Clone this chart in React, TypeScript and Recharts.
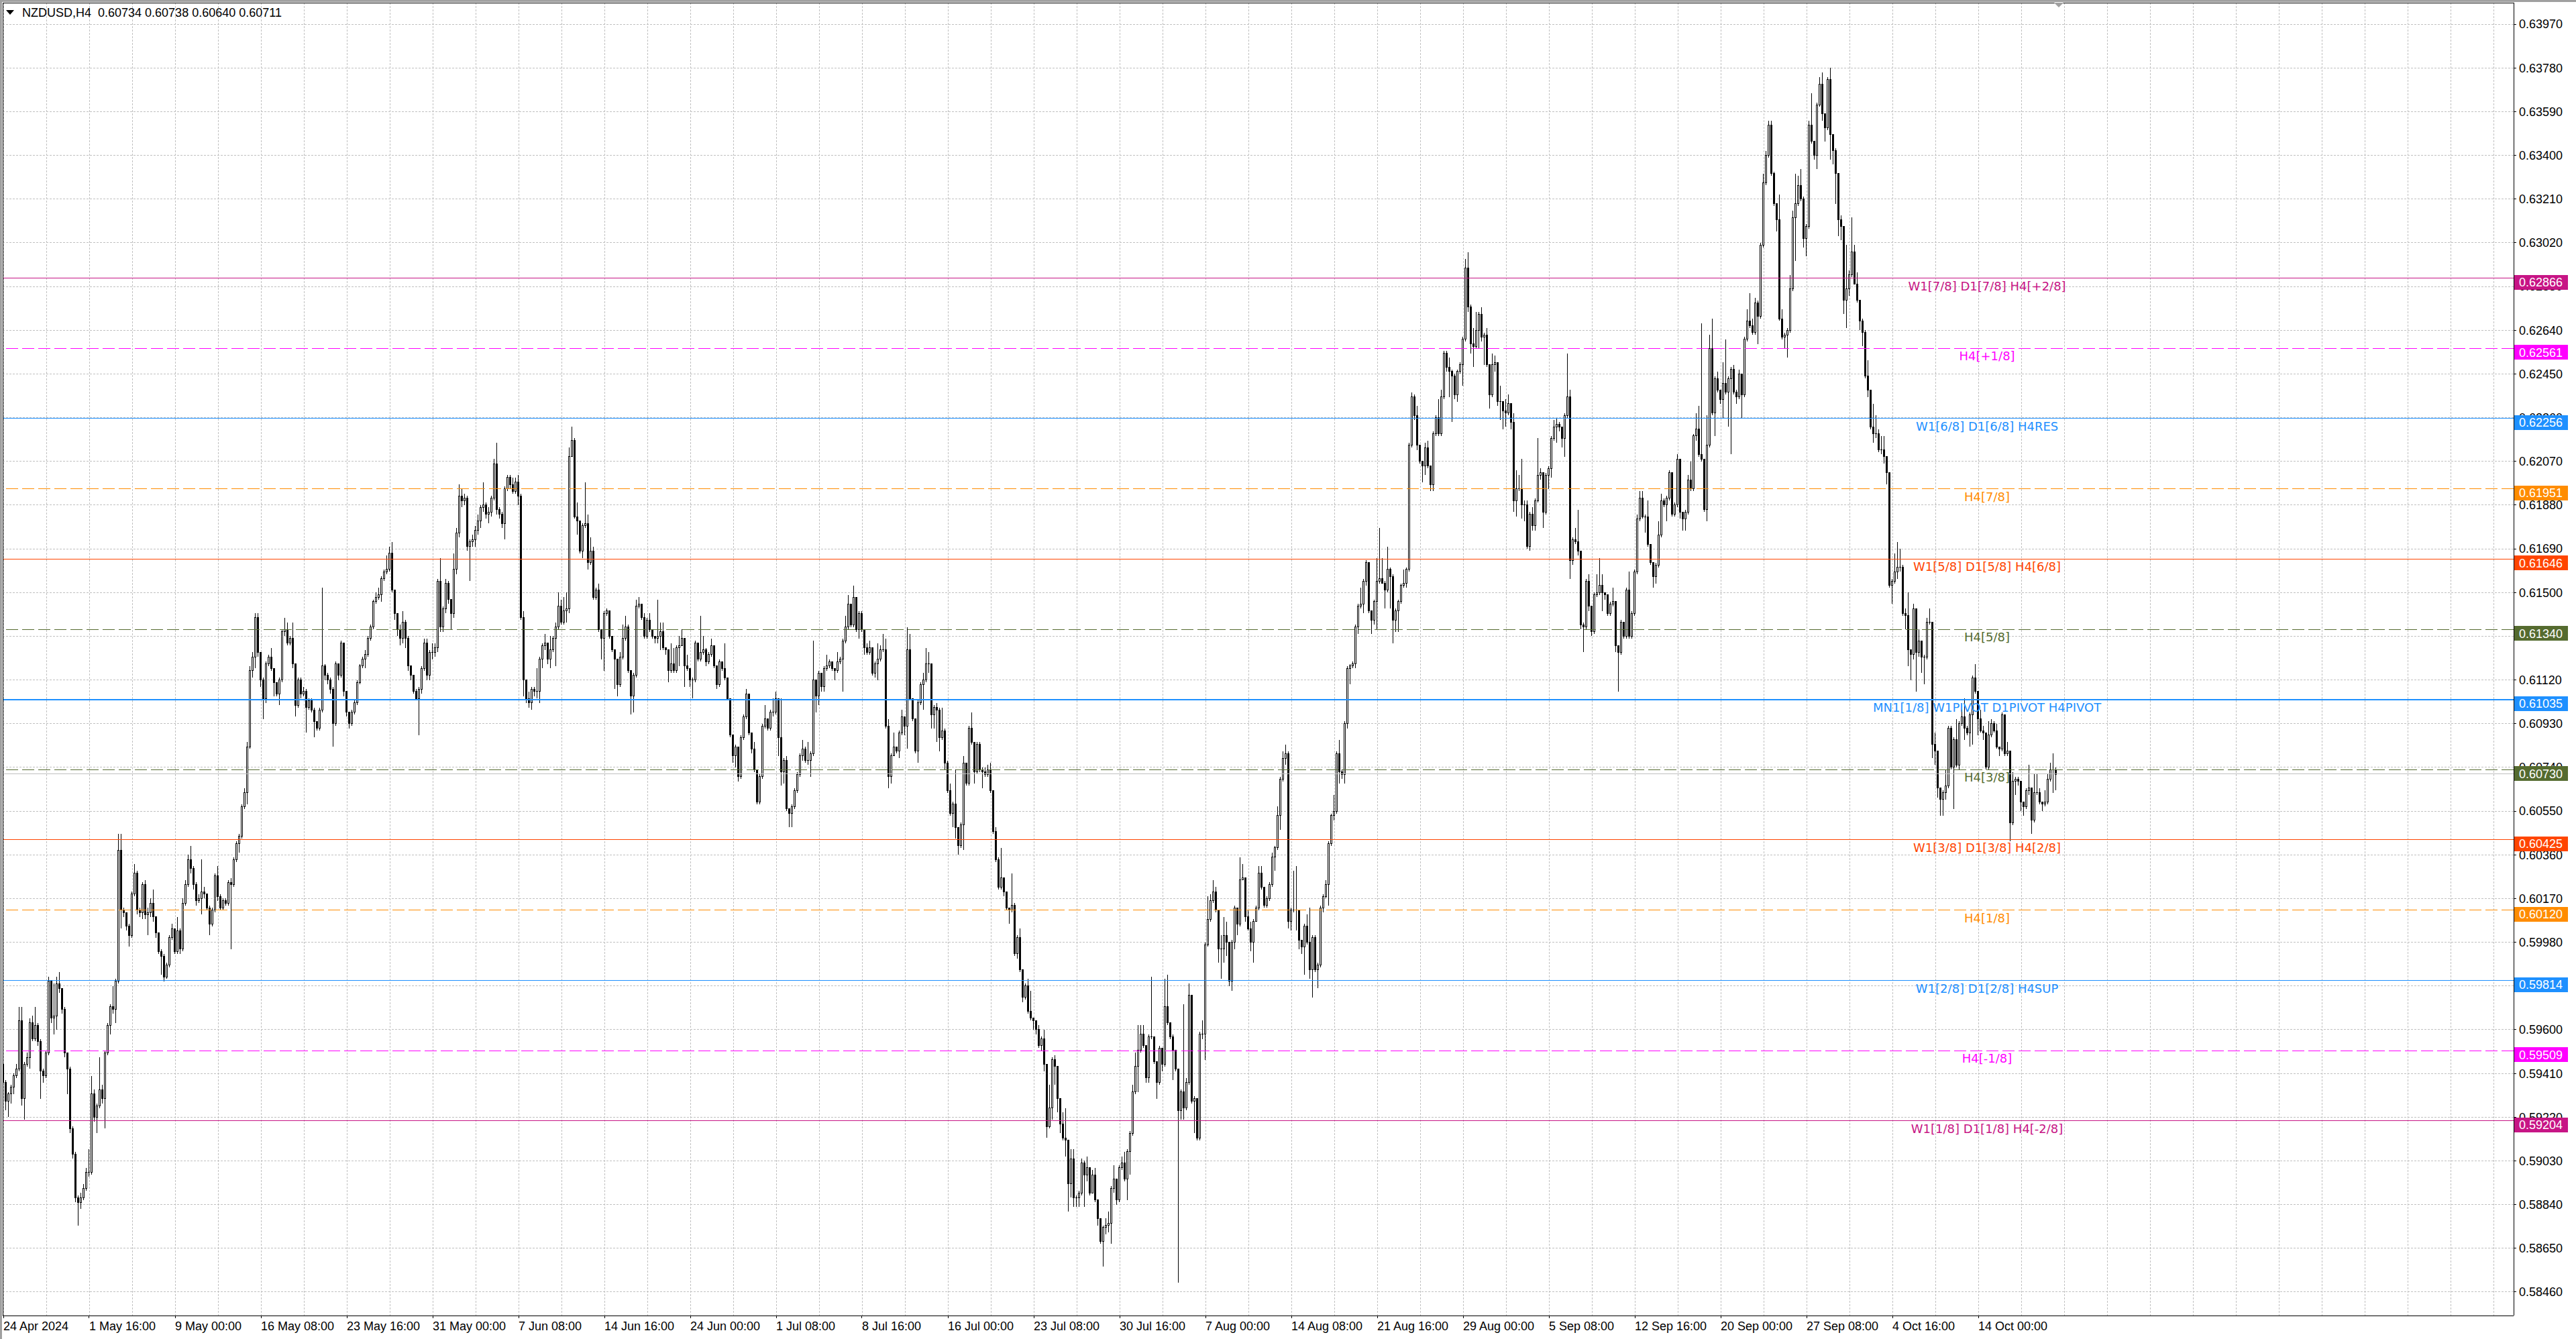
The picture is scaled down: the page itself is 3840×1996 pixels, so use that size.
import React from 'react';
import { ComposedChart, Bar, XAxis, YAxis, CartesianGrid, ReferenceLine } from 'recharts';

// ---- data ----
const symbolTitle = 'NZDUSD,H4';
const lastQuote = [0.60734, 0.60738, 0.6064, 0.60711];

const timeLabels = [
  '24 Apr 2024', '1 May 16:00', '9 May 00:00', '16 May 08:00', '23 May 16:00', '31 May 00:00',
  '7 Jun 08:00', '14 Jun 16:00', '24 Jun 00:00', '1 Jul 08:00', '8 Jul 16:00', '16 Jul 00:00',
  '23 Jul 08:00', '30 Jul 16:00', '7 Aug 00:00', '14 Aug 08:00', '21 Aug 16:00', '29 Aug 00:00',
  '5 Sep 08:00', '12 Sep 16:00', '20 Sep 00:00', '27 Sep 08:00', '4 Oct 16:00', '14 Oct 00:00',
];

const priceTicks = [
  0.6397, 0.6378, 0.6359, 0.634, 0.6321, 0.6302, 0.6283, 0.6264, 0.6245, 0.6226,
  0.6207, 0.6188, 0.6169, 0.615, 0.6131, 0.6112, 0.6093, 0.6074, 0.6055, 0.6036,
  0.6017, 0.5998, 0.5979, 0.596, 0.5941, 0.5922, 0.5903, 0.5884, 0.5865, 0.5846,
];

const levelPrices = [0.62866, 0.62561, 0.62256, 0.61951, 0.61646, 0.6134, 0.61035, 0.6073, 0.60425, 0.6012, 0.59814, 0.59509, 0.59204];
const levelNames = [
  'W1[7/8] D1[7/8] H4[+2/8]', 'H4[+1/8]', 'W1[6/8] D1[6/8] H4RES', 'H4[7/8]',
  'W1[5/8] D1[5/8] H4[6/8]', 'H4[5/8]', 'MN1[1/8] W1PIVOT D1PIVOT H4PIVOT', 'H4[3/8]',
  'W1[3/8] D1[3/8] H4[2/8]', 'H4[1/8]', 'W1[2/8] D1[2/8] H4SUP', 'H4[-1/8]', 'W1[1/8] D1[1/8] H4[-2/8]',
];
const bidPrice = 0.60711;

// H4 bars in pips (x 1e-4), open = previous close
const firstOpen = 5945;
const closes = [
  5937,5929,5932,5935,5940,5943,5964,5930,5945,5948,
  5963,5956,5962,5955,5942,5940,5950,5981,5965,5966,
  5980,5978,5969,5950,5943,5917,5906,5887,5885,5887,
  5891,5898,5898,5932,5922,5927,5934,5930,5950,5962,
  5970,5969,5981,6038,6012,6011,6005,6001,6019,6028,
  6012,6011,6023,6010,6011,6015,6009,6002,5994,5992,
  5983,5988,6000,6004,5994,6003,5995,6015,6023,6034,
  6030,6023,6016,6017,6020,6019,6013,6006,6012,6027,
  6018,6013,6016,6015,6024,6023,6034,6041,6044,6057,
  6063,6083,6116,6122,6139,6124,6112,6104,6119,6122,
  6117,6111,6106,6112,6133,6134,6128,6130,6119,6101,
  6112,6106,6107,6100,6103,6099,6094,6091,6099,6118,
  6114,6112,6108,6093,6119,6114,6128,6107,6098,6093,
  6098,6102,6111,6118,6121,6123,6130,6135,6146,6148,
  6149,6156,6159,6160,6167,6151,6141,6134,6130,6137,
  6130,6118,6114,6107,6104,6108,6117,6128,6114,6124,
  6124,6126,6155,6135,6143,6154,6147,6141,6160,6176,
  6192,6190,6191,6170,6172,6173,6177,6181,6187,6188,
  6184,6185,6191,6206,6186,6184,6180,6195,6200,6197,
  6194,6198,6192,6139,6112,6104,6102,6108,6107,6107,
  6121,6127,6128,6121,6125,6130,6135,6144,6137,6142,
  6143,6209,6216,6183,6181,6168,6179,6180,6163,6168,
  6148,6151,6134,6130,6141,6142,6131,6125,6121,6110,
  6122,6130,6135,6116,6105,6114,6144,6145,6139,6131,
  6138,6134,6131,6130,6131,6133,6126,6125,6116,6119,
  6116,6126,6127,6130,6118,6117,6112,6112,6128,6121,
  6124,6125,6120,6123,6127,6118,6110,6120,6117,6113,
  6104,6088,6079,6083,6070,6087,6096,6106,6089,6082,
  6073,6059,6070,6092,6095,6091,6098,6098,6104,6087,
  6072,6077,6056,6054,6057,6064,6071,6079,6082,6077,
  6077,6080,6112,6105,6115,6109,6117,6118,6120,6117,
  6116,6120,6121,6129,6135,6145,6136,6148,6134,6141,
  6134,6126,6124,6126,6115,6119,6121,6125,6125,6092,
  6070,6079,6083,6081,6089,6096,6092,6125,6104,6095,
  6081,6102,6110,6112,6119,6119,6097,6100,6099,6087,
  6090,6076,6064,6054,6058,6048,6040,6049,6076,6067,
  6091,6085,6072,6084,6073,6072,6071,6073,6064,6046,
  6034,6022,6026,6020,6013,6012,6014,5993,6000,5986,
  5974,5979,5968,5965,5964,5960,5953,5956,5945,5918,
  5926,5947,5944,5930,5919,5913,5912,5893,5904,5887,
  5887,5889,5902,5897,5900,5889,5897,5886,5878,5868,
  5874,5875,5876,5891,5895,5886,5900,5902,5895,5907,
  5915,5933,5944,5951,5958,5953,5939,5957,5957,5946,
  5937,5952,5945,5970,5963,5957,5951,5943,5925,5933,
  5926,5937,5975,5929,5930,5913,5958,5958,5997,6008,
  6016,6020,6012,5995,5995,6001,5998,5981,5998,6013,
  6006,6025,6026,6009,6004,5998,6007,6013,6028,6022,
  6014,6017,6023,6035,6039,6053,6069,6078,6080,6007,
  6012,6012,6012,5999,5996,6005,5998,5986,6000,5986,
  5988,6013,6018,6023,6041,6053,6055,6080,6072,6071,
  6093,6117,6118,6119,6135,6144,6145,6155,6163,6142,
  6138,6146,6155,6156,6154,6151,6160,6157,6138,6142,
  6146,6153,6154,6160,6214,6235,6227,6214,6207,6205,
  6213,6205,6197,6219,6226,6219,6235,6254,6248,6246,
  6244,6236,6246,6249,6260,6291,6274,6258,6257,6264,
  6271,6261,6262,6249,6236,6249,6250,6233,6233,6229,
  6228,6232,6224,6190,6195,6195,6188,6188,6170,6184,
  6179,6190,6201,6202,6185,6201,6204,6217,6222,6223,
  6222,6217,6227,6235,6164,6173,6172,6168,6136,6135,
  6155,6144,6133,6149,6150,6153,6150,6149,6141,6145,
  6146,6127,6124,6137,6131,6151,6131,6141,6159,6182,
  6191,6183,6183,6171,6163,6157,6162,6175,6190,6188,
  6191,6202,6184,6188,6208,6185,6182,6185,6199,6195,
  6218,6221,6210,6208,6186,6214,6256,6228,6243,6238,
  6234,6241,6237,6243,6247,6237,6235,6245,6236,6260,
  6268,6266,6263,6276,6270,6301,6328,6340,6353,6332,
  6319,6312,6269,6261,6262,6264,6282,6313,6319,6327,
  6321,6304,6309,6353,6346,6340,6362,6371,6358,6352,
  6373,6349,6342,6332,6312,6309,6277,6282,6288,6298,
  6284,6277,6268,6263,6244,6238,6222,6219,6219,6212,
  6212,6209,6202,6153,6155,6159,6161,6161,6141,6140,
  6125,6123,6143,6124,6129,6122,6122,6137,6137,6084,
  6081,6065,6060,6063,6066,6091,6074,6086,6075,6093,
  6096,6091,6089,6097,6113,6107,6095,6090,6089,6074,
  6088,6093,6090,6083,6082,6097,6080,6081,6050,6068,
  6069,6068,6059,6057,6064,6065,6051,6063,6063,6059,
  6058,6059,6069,6073,6073,6071,
];
const highs = [
  5949,5938,5933,5936,5941,5945,5970,5970,5946,5950,
  5965,5966,5970,5963,5956,5943,5951,5983,5981,5980,
  5983,5985,5978,5970,5950,5944,5918,5907,5888,5889,
  5893,5900,5908,5940,5934,5928,5948,5936,5951,5963,
  5971,5979,5982,6045,6045,6013,6011,6006,6020,6032,
  6029,6013,6024,6025,6013,6017,6021,6009,6002,5995,
  5993,5989,6001,6006,6004,6009,6004,6017,6025,6036,
  6040,6031,6024,6019,6034,6022,6019,6014,6013,6028,
  6031,6019,6017,6017,6025,6026,6035,6042,6045,6058,
  6065,6085,6118,6124,6141,6141,6124,6113,6120,6123,
  6126,6117,6111,6113,6134,6139,6137,6131,6137,6119,
  6113,6113,6109,6108,6104,6104,6100,6094,6100,6152,
  6119,6115,6113,6109,6120,6119,6129,6128,6107,6098,
  6099,6103,6112,6119,6122,6125,6131,6136,6147,6150,
  6152,6157,6160,6166,6170,6172,6151,6141,6136,6142,
  6138,6131,6118,6114,6108,6109,6118,6130,6130,6125,
  6128,6128,6156,6165,6144,6156,6155,6147,6167,6178,
  6197,6195,6193,6192,6173,6175,6179,6184,6188,6198,
  6189,6187,6192,6208,6215,6187,6185,6196,6201,6201,
  6200,6200,6201,6193,6142,6112,6107,6109,6109,6117,
  6122,6128,6132,6128,6131,6131,6137,6150,6147,6148,
  6150,6213,6222,6217,6189,6181,6180,6198,6184,6174,
  6170,6152,6154,6134,6142,6143,6142,6131,6125,6121,
  6124,6136,6140,6136,6116,6115,6147,6148,6145,6141,
  6139,6141,6134,6131,6147,6137,6137,6126,6125,6128,
  6126,6127,6131,6134,6130,6123,6117,6113,6129,6128,
  6140,6131,6126,6124,6130,6127,6118,6121,6120,6128,
  6113,6104,6088,6084,6080,6088,6097,6108,6106,6089,
  6085,6073,6071,6093,6101,6095,6099,6104,6107,6104,
  6104,6078,6079,6056,6058,6065,6072,6080,6086,6083,
  6085,6081,6129,6112,6116,6115,6118,6123,6121,6120,
  6117,6124,6122,6130,6140,6149,6145,6153,6148,6142,
  6142,6134,6128,6129,6126,6120,6128,6127,6132,6130,
  6095,6080,6089,6083,6090,6099,6096,6135,6132,6104,
  6095,6103,6111,6115,6126,6124,6113,6101,6102,6100,
  6100,6091,6077,6067,6059,6073,6048,6050,6079,6076,
  6092,6098,6085,6085,6085,6074,6074,6075,6076,6064,
  6048,6035,6039,6026,6020,6013,6028,6015,6001,6004,
  5986,5980,5982,5977,5965,5964,5962,5957,5960,5945,
  5936,5948,5949,5944,5930,5924,5926,5912,5908,5908,
  5888,5890,5904,5903,5905,5900,5899,5900,5886,5878,
  5875,5878,5881,5892,5901,5895,5901,5905,5907,5908,
  5916,5936,5950,5962,5962,5962,5953,5958,5983,5957,
  5946,5953,5952,5982,5984,5963,5958,5951,5943,5934,
  5971,5939,5980,5975,5931,5930,5959,5964,5998,6018,
  6019,6025,6022,6012,6001,6009,6007,5998,5999,6014,
  6013,6035,6032,6026,6012,6007,6008,6014,6031,6031,
  6022,6018,6024,6037,6040,6057,6070,6081,6084,6081,
  6013,6029,6031,6012,5999,6006,6010,6013,6001,6001,
  5989,6014,6019,6025,6042,6054,6062,6081,6086,6073,
  6094,6118,6119,6120,6136,6145,6152,6156,6164,6163,
  6142,6147,6165,6178,6165,6155,6170,6161,6158,6143,
  6147,6154,6160,6161,6215,6237,6236,6231,6214,6207,
  6215,6216,6204,6220,6227,6234,6238,6255,6255,6252,
  6247,6245,6247,6250,6261,6295,6298,6275,6265,6272,
  6272,6274,6263,6265,6249,6254,6253,6250,6240,6233,
  6234,6236,6232,6228,6203,6201,6208,6190,6190,6185,
  6187,6191,6217,6204,6202,6202,6205,6218,6225,6226,
  6224,6222,6228,6254,6238,6174,6178,6186,6168,6137,
  6156,6158,6144,6150,6158,6165,6158,6150,6149,6146,
  6152,6146,6127,6138,6137,6152,6159,6142,6160,6184,
  6194,6194,6184,6190,6171,6163,6163,6181,6193,6191,
  6192,6203,6202,6189,6210,6208,6185,6186,6201,6207,
  6219,6228,6231,6267,6208,6227,6262,6269,6244,6246,
  6238,6250,6260,6244,6248,6249,6238,6247,6245,6261,
  6273,6280,6269,6278,6277,6302,6332,6342,6355,6355,
  6333,6319,6323,6273,6263,6265,6288,6316,6332,6331,
  6334,6322,6310,6355,6367,6346,6363,6374,6376,6358,
  6374,6378,6349,6343,6332,6314,6309,6301,6290,6313,
  6301,6289,6277,6269,6264,6251,6238,6232,6227,6221,
  6218,6218,6209,6202,6156,6167,6172,6169,6162,6143,
  6150,6125,6145,6143,6134,6128,6123,6139,6143,6137,
  6089,6081,6065,6064,6073,6092,6092,6087,6095,6094,
  6099,6104,6092,6098,6114,6119,6107,6099,6092,6089,
  6094,6095,6094,6093,6083,6098,6097,6085,6081,6072,
  6070,6070,6068,6059,6065,6075,6065,6071,6071,6065,
  6059,6064,6071,6076,6080,6074,
];
const lows = [
  5932,5925,5922,5928,5932,5939,5942,5927,5921,5944,
  5943,5955,5955,5953,5930,5937,5939,5949,5963,5958,
  5960,5976,5967,5948,5932,5915,5904,5885,5875,5882,
  5886,5890,5896,5897,5920,5915,5926,5928,5917,5949,
  5958,5967,5963,5980,6004,6009,6003,5996,6000,6018,
  6010,6009,6008,6008,6001,6009,6007,6000,5993,5984,
  5981,5982,5987,5999,5993,5993,5993,5994,6014,6022,
  6028,6021,6014,6015,6010,6017,6012,6001,6005,6011,
  6016,6012,6012,6014,6014,5995,6022,6033,6037,6043,
  6056,6058,6082,6113,6117,6122,6109,6095,6102,6118,
  6116,6105,6105,6101,6111,6131,6127,6127,6117,6096,
  6100,6104,6105,6089,6099,6098,6087,6090,6090,6098,
  6112,6110,6106,6083,6092,6112,6113,6105,6096,6091,
  6092,6097,6101,6110,6117,6117,6122,6129,6134,6145,
  6147,6146,6155,6158,6159,6150,6138,6131,6127,6128,
  6126,6116,6112,6106,6103,6088,6106,6116,6112,6112,
  6121,6122,6124,6133,6133,6141,6145,6134,6139,6158,
  6174,6187,6188,6168,6155,6170,6170,6175,6178,6185,
  6182,6180,6183,6190,6184,6182,6178,6173,6194,6195,
  6193,6193,6188,6138,6105,6102,6100,6099,6105,6104,
  6102,6117,6125,6119,6117,6124,6118,6134,6136,6136,
  6137,6141,6209,6182,6175,6167,6165,6178,6160,6162,
  6147,6147,6133,6121,6116,6140,6130,6124,6108,6105,
  6109,6121,6129,6115,6097,6098,6113,6143,6138,6130,
  6130,6133,6130,6128,6128,6125,6125,6123,6111,6115,
  6115,6115,6118,6127,6109,6116,6109,6104,6111,6120,
  6120,6123,6118,6119,6122,6117,6108,6109,6116,6112,
  6103,6087,6076,6074,6068,6069,6086,6095,6088,6080,
  6072,6058,6058,6069,6091,6090,6090,6096,6097,6079,
  6066,6067,6055,6048,6048,6056,6063,6070,6077,6076,
  6075,6070,6079,6098,6101,6107,6107,6116,6117,6116,
  6112,6115,6119,6107,6128,6134,6135,6135,6133,6130,
  6133,6123,6123,6123,6114,6113,6112,6120,6124,6091,
  6065,6067,6079,6080,6078,6088,6088,6082,6103,6094,
  6080,6076,6101,6099,6111,6115,6091,6091,6085,6081,
  6086,6073,6063,6053,6048,6043,6036,6039,6038,6066,
  6066,6084,6067,6071,6072,6065,6070,6070,6063,6045,
  6033,6021,6021,6018,6012,6006,6011,5992,5991,5985,
  5972,5973,5967,5964,5960,5958,5952,5951,5942,5913,
  5917,5921,5936,5924,5915,5912,5905,5881,5887,5883,
  5883,5883,5888,5883,5894,5888,5889,5885,5875,5867,
  5857,5871,5872,5867,5889,5884,5885,5899,5894,5886,
  5897,5914,5932,5933,5950,5952,5937,5937,5956,5945,
  5930,5936,5942,5944,5962,5956,5938,5942,5850,5921,
  5921,5925,5936,5928,5915,5912,5912,5956,5947,5996,
  6007,6015,6011,5989,5982,5989,5992,5979,5977,5995,
  6001,6005,6025,6007,6003,5994,5989,6007,6012,6021,
  6013,6013,6016,6022,6029,6038,6047,6068,6075,6004,
  6003,6011,6003,5995,5993,5984,5997,5982,5974,5985,
  5978,5987,6011,6017,6014,6040,6051,6054,6067,6069,
  6067,6091,6110,6117,6117,6132,6143,6141,6153,6141,
  6132,6136,6134,6154,6154,6143,6150,6143,6128,6133,
  6133,6145,6152,6152,6159,6213,6225,6212,6206,6198,
  6201,6204,6194,6194,6218,6218,6218,6234,6246,6235,
  6224,6234,6233,6245,6240,6259,6272,6254,6248,6256,
  6256,6259,6249,6248,6230,6235,6246,6231,6225,6221,
  6222,6227,6221,6185,6183,6194,6182,6181,6169,6168,
  6177,6177,6189,6199,6178,6184,6195,6200,6216,6215,
  6220,6213,6209,6226,6156,6162,6171,6166,6134,6124,
  6134,6142,6131,6132,6148,6149,6142,6147,6140,6140,
  6144,6124,6107,6123,6130,6130,6130,6130,6140,6158,
  6181,6182,6176,6170,6162,6152,6154,6161,6174,6187,
  6181,6190,6183,6183,6187,6182,6177,6177,6184,6194,
  6194,6216,6209,6207,6185,6181,6213,6227,6218,6237,
  6232,6226,6236,6222,6210,6236,6232,6234,6226,6235,
  6259,6265,6262,6262,6258,6269,6300,6327,6339,6331,
  6318,6307,6268,6260,6256,6252,6263,6281,6294,6318,
  6320,6300,6296,6308,6345,6338,6334,6361,6355,6346,
  6351,6338,6336,6319,6305,6303,6271,6265,6279,6287,
  6284,6276,6264,6257,6243,6235,6221,6215,6217,6211,
  6210,6206,6197,6152,6145,6154,6156,6159,6140,6134,
  6118,6112,6121,6107,6122,6115,6110,6121,6136,6078,
  6075,6061,6053,6053,6060,6065,6073,6056,6074,6073,
  6092,6086,6088,6083,6084,6106,6088,6089,6086,6073,
  6073,6087,6089,6082,6079,6081,6079,6079,6042,6049,
  6062,6066,6055,6053,6056,6062,6045,6050,6062,6058,
  6055,6057,6058,6068,6063,6064,
];

// ---- styles ----
const levelColors = ['#c71585', '#ff00ff', '#1e90ff', '#ff8c00', '#ff4500', '#556b2f', '#1e90ff', '#556b2f', '#ff4500', '#ff8c00', '#1e90ff', '#ff00ff', '#c71585'];
const levelDashed = [false, true, false, true, false, true, false, true, false, true, false, true, false];
const levelWidths = [1, 1, 1, 1, 1, 1, 2, 1, 1, 1, 1, 1, 1];

const W = 3840;
const H = 1996;
const PRICE_AXIS_W = 92;
const TAG_AXIS_W = 1;
const AXIS_FONT = '"Liberation Sans", Arial, sans-serif';
const LABEL_FONT = '"DejaVu Sans", Verdana, sans-serif';
const LABEL_POS = 0.7903; // level captions sit in the right part of the plot
const BARS_PER_LABEL = 32;
const BARS_PER_GRID = 16;

const n = Math.min(closes.length, highs.length, lows.length);
const candles = Array.from({ length: n }, (_, i) => {
  const o = i === 0 ? firstOpen : closes[i - 1];
  const c = closes[i];
  const hi = Math.max(highs[i], o, c);
  const lo = Math.min(lows[i], o, c);
  return { i, open: o / 1e4, close: c / 1e4, high: hi / 1e4, low: lo / 1e4, range: [lo / 1e4, hi / 1e4] };
});

const xDomain = [-0.25, 935.5];
const yDomain = [0.583579, 0.640633];
const gridBars = Array.from({ length: Math.floor(xDomain[1] / BARS_PER_GRID) + 1 }, (_, k) => k * BARS_PER_GRID);

const Candle = (props: any) => {
  const { x, y, width, height, payload } = props;
  if (!payload) return null;
  const { open, close, high, low } = payload;
  const top = Math.min(y, y + height);
  const bottom = Math.max(y, y + height);
  const span = high - low || 1e-9;
  const py = (p: number) => top + ((high - p) / span) * (bottom - top);
  const cx = Math.floor(x + width / 2) + 0.5;
  const bTop = py(Math.max(open, close));
  const bBot = py(Math.min(open, close));
  const bull = close > open;
  return (
    <g>
      <line x1={cx} x2={cx} y1={top} y2={bottom} stroke="#000" strokeWidth={1} />
      {bBot - bTop < 1 ? (
        <line x1={cx - 1.5} x2={cx + 1.5} y1={bTop} y2={bTop} stroke="#000" strokeWidth={1} />
      ) : (
        <rect x={cx - 1} y={bTop} width={2} height={bBot - bTop} fill={bull ? '#fff' : '#000'} stroke="#000" strokeWidth={1} />
      )}
    </g>
  );
};

const TimeTick = (props: any) => {
  const { x, y, payload } = props;
  const k = payload.value / BARS_PER_LABEL;
  if (!Number.isInteger(k) || k >= timeLabels.length) return null;
  const px = Math.floor(x) + 0.5;
  return (
    <g>
      <line x1={px} x2={px} y1={y} y2={y + 4} stroke="#000" strokeWidth={1} />
      <text x={x} y={y + 22} fontSize={18} fontFamily={AXIS_FONT} fill="#000" textAnchor="start">
        {timeLabels[k]}
      </text>
    </g>
  );
};

// price tag for every level; its axis sits just right of the price axis,
// so the tag is drawn back over the price axis (after it, i.e. on top of the tick labels)
const TagTick = (props: any) => {
  const { x, y, payload } = props;
  const idx = levelPrices.indexOf(payload.value);
  if (idx < 0) return null;
  const left = x - PRICE_AXIS_W;
  return (
    <g>
      <rect x={left + 1} y={y - 5} width={80} height={22} fill={levelColors[idx]} />
      <text x={left + 8} y={y + 12.5} fontSize={18} fontFamily={AXIS_FONT} fill="#fff">
        {levelPrices[idx].toFixed(5)}
      </text>
    </g>
  );
};

const levelLabel = (idx: number) => (props: any) => {
  const vb = props.viewBox || {};
  const x = vb.x ?? 4;
  const y = vb.y ?? 0;
  const w = vb.width ?? 3743;
  return (
    <text x={x + w * LABEL_POS} y={y + 18} textAnchor="middle" fontSize={18} fontFamily={LABEL_FONT} fill={levelColors[idx]}>
      {levelNames[idx]}
    </text>
  );
};

export default function App() {
  return (
    <div className="mt4" style={{ position: 'relative', width: W, height: H, background: '#fff', overflow: 'hidden' }}>
      <style>{'body{margin:0} .mt4 svg line, .mt4 svg rect, .mt4 svg path{shape-rendering:crispEdges}'}</style>
      <ComposedChart width={W} height={H} data={candles} margin={{ top: 4, right: 0, bottom: 0, left: 4 }}>
        <CartesianGrid stroke="#c0c0c0" strokeDasharray="3 2" />
        <XAxis
          dataKey="i"
          type="number"
          domain={xDomain}
          allowDataOverflow
          ticks={gridBars}
          interval={0}
          height={35}
          tickSize={0}
          tickMargin={0}
          tickLine={false}
          axisLine={{ stroke: '#000' }}
          tick={TimeTick}
        />
        <YAxis
          orientation="right"
          type="number"
          domain={yDomain}
          allowDataOverflow
          ticks={priceTicks}
          interval={0}
          width={PRICE_AXIS_W}
          tickSize={4}
          tickMargin={4}
          axisLine={{ stroke: '#000' }}
          tickLine={{ stroke: '#000' }}
          tick={{ fontSize: 18, fontFamily: AXIS_FONT, fill: '#000' }}
          tickFormatter={(v: number) => v.toFixed(5)}
        />
        <YAxis
          yAxisId="tags"
          orientation="right"
          type="number"
          domain={yDomain}
          allowDataOverflow
          ticks={levelPrices}
          interval={0}
          width={TAG_AXIS_W}
          tickSize={0}
          tickMargin={0}
          axisLine={false}
          tickLine={false}
          tick={TagTick}
        />
        <ReferenceLine y={bidPrice} stroke="#c0c0c0" strokeWidth={1} />
        {levelPrices.map((p, idx) => (
          <ReferenceLine
            key={p}
            y={p}
            stroke={levelColors[idx]}
            strokeWidth={levelWidths[idx]}
            strokeDasharray={levelDashed[idx] ? '18 6' : undefined}
            label={levelLabel(idx)}
          />
        ))}
        <Bar dataKey="range" barSize={3} isAnimationActive={false} shape={Candle} />
      </ComposedChart>

      {/* window frame and plot border */}
      <div style={{ position: 'absolute', left: 0, top: 0, width: W, height: 3, background: '#a0a0a0' }} />
      <div style={{ position: 'absolute', left: 0, top: 0, width: 3, height: H, background: '#a0a0a0' }} />
      <div style={{ position: 'absolute', left: 4, top: 4, width: 3743, height: 1957, borderLeft: '1px solid #000', borderTop: '1px solid #000', boxSizing: 'border-box', pointerEvents: 'none' }} />
      {/* chart shift marker */}
      <div style={{ position: 'absolute', left: 3062, top: 4, width: 0, height: 0, borderLeft: '7px solid transparent', borderRight: '7px solid transparent', borderTop: '7px solid #a0a0a0' }} />
      {/* title */}
      <div style={{ position: 'absolute', left: 9, top: 15, width: 0, height: 0, borderLeft: '6px solid transparent', borderRight: '6px solid transparent', borderTop: '7px solid #000' }} />
      <div style={{ position: 'absolute', left: 33, top: 9, font: `18px ${AXIS_FONT}`, lineHeight: '20px', whiteSpace: 'pre', color: '#000' }}>
        {`${symbolTitle}  ${lastQuote.map((v) => v.toFixed(5)).join(' ')}`}
      </div>
    </div>
  );
}
